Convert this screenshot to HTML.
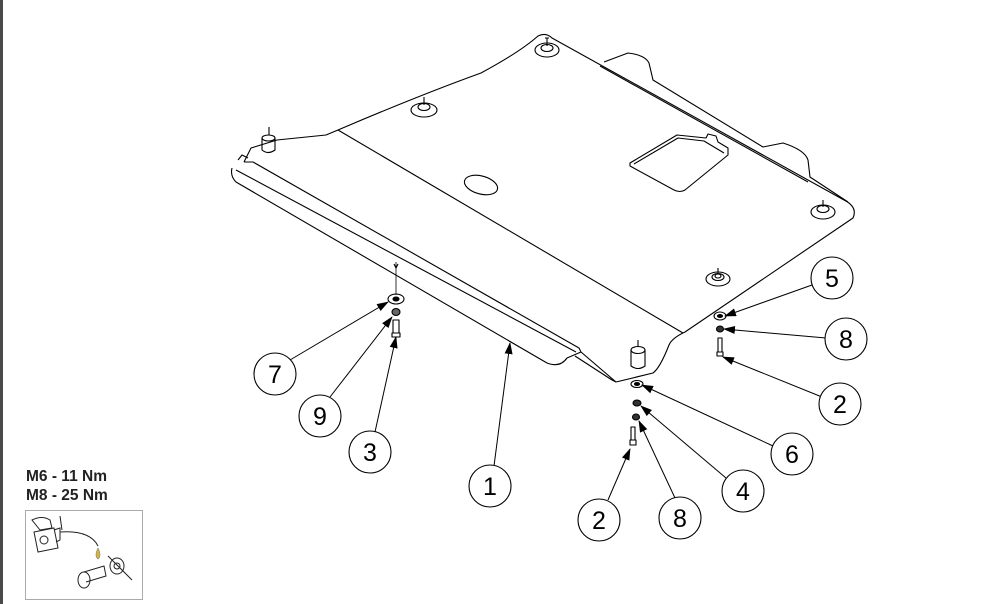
<!DOCTYPE html>
<html><head><meta charset="utf-8"><style>
html,body{margin:0;padding:0;background:#fff;}
body{width:991px;height:604px;overflow:hidden;position:relative;font-family:"Liberation Sans",sans-serif;}
.bar{position:absolute;left:0;top:0;width:3px;height:604px;background:#4a4a4a;}
.t{position:absolute;left:26px;font-weight:bold;font-size:15.5px;color:#222;line-height:18px;}
</style></head><body>
<div class="bar"></div>
<svg width="991" height="604" style="position:absolute;left:0;top:0" xmlns="http://www.w3.org/2000/svg">
<defs>
<marker id="a" markerWidth="12" markerHeight="8" refX="11" refY="4" orient="auto" markerUnits="userSpaceOnUse">
<path d="M0,0 L12,4 L0,8 Z" fill="#000"/></marker>
</defs>
<g fill="none" stroke="#000" stroke-width="1.1" stroke-linejoin="round">
<path d="M244,162 L251,148 L277,140 L326,135 L338,130 Q420,95 481,73 Q520,52 538,36 Q546,32 552,38 L844,200 Q858,207 853,218 L685,332 Q672,338 669,345 Q660,368 653,373 L616,382"/>
<path d="M338,130 L683,333"/>
<path d="M232,168 Q230,176 236,182 L547,363 Q560,368 567,358 L581,352"/>
<path d="M244,162 L253,162 L579,348 L581,352"/>
<path d="M236,170 L576,352"/>
<path d="M581,352 L616,382 M575,356 L612,380"/>
<path d="M612,380 L616,382"/>
<path d="M604,62 L628,53 Q645,55 649,63 L653,80 L763,147 L783,143 Q805,150 808,160 L810,177 L848,202"/>
<path d="M600,66 L808,182"/>
<path d="M630,163 L677,135 L706,138 L708,134 L716,136 L718,142 L728,148 L728,155 L685,190 Q680,193 674,190 L630,166 Z"/>
<path d="M634,164 L678,138 L704,141 L724,153"/>
<ellipse cx="481" cy="185" rx="17" ry="9" transform="rotate(15 481 185)"/>
<ellipse cx="547" cy="50" rx="12" ry="7"/><ellipse cx="547" cy="48" rx="6" ry="3.5"/><path d="M547,46 V38 M545,38 H549"/>
<ellipse cx="424" cy="110" rx="13" ry="7"/><ellipse cx="424" cy="107" rx="6" ry="3.5"/><path d="M424,105 V97"/>
<ellipse cx="823" cy="212" rx="12" ry="7"/><ellipse cx="823" cy="209" rx="6" ry="3.5"/><path d="M823,207 V200"/>
<ellipse cx="718" cy="279" rx="12" ry="7"/><ellipse cx="718" cy="277" rx="6" ry="3.5"/><ellipse cx="718" cy="276" rx="3" ry="2"/><path d="M718,274 V268"/>
<path d="M262,138 L262,150 Q268,155 275,150 L275,138"/><ellipse cx="268.5" cy="138" rx="6.5" ry="3"/><path d="M269,135 V127"/>
<path d="M238,160 L242,155 L248,158"/>
<path d="M631,350 V366 Q638,371 645,366 V350"/><ellipse cx="638" cy="350" rx="7" ry="3.5"/><path d="M638,347 V340"/>
<path d="M396,262 V295" stroke-width="0.8"/><path d="M394,264 L396,268 L398,264"/>
<ellipse cx="396" cy="299" rx="8" ry="5"/><ellipse cx="396" cy="299" rx="3" ry="2" fill="#000"/>
<ellipse cx="396" cy="312" rx="4" ry="3.5" fill="#666"/>
<path d="M393,320 V333 H399 V320 Z"/><path d="M392,333 H400 V337 H392 Z"/>
<ellipse cx="720" cy="316" rx="6" ry="4"/><ellipse cx="720" cy="316" rx="2.5" ry="1.5" fill="#000"/>
<ellipse cx="720" cy="329" rx="3.5" ry="3" fill="#333"/>
<path d="M718,338 V352 H722 V338 Z"/><path d="M717,352 H723 V356 H717 Z"/>
<ellipse cx="637" cy="384" rx="6" ry="3.5"/><ellipse cx="637" cy="384" rx="2.5" ry="1.5" fill="#000"/>
<ellipse cx="637" cy="403" rx="4" ry="3" fill="#333"/>
<ellipse cx="636" cy="417" rx="3.5" ry="3" fill="#333"/>
<path d="M631,427 V440 H635 V427 Z"/><path d="M630,440 H636 V445 H630 Z"/>
</g>
<g stroke="#000" stroke-width="1" marker-end="url(#a)">
<line x1="290" y1="360" x2="388" y2="302"/>
<line x1="330" y1="397" x2="392" y2="317"/>
<line x1="375" y1="432" x2="396" y2="337"/>
<line x1="494" y1="466" x2="510" y2="343"/>
<line x1="812" y1="285" x2="725" y2="316"/>
<line x1="826" y1="338" x2="724" y2="329"/>
<line x1="822" y1="397" x2="723" y2="357"/>
<line x1="773" y1="446" x2="642" y2="385"/>
<line x1="726" y1="478" x2="641" y2="406"/>
<line x1="675" y1="498" x2="639" y2="421"/>
<line x1="608" y1="500" x2="630" y2="449"/>
</g>
<g fill="#fff" stroke="#000" stroke-width="1.1">
<circle cx="832" cy="278" r="21"/><circle cx="846" cy="339" r="21"/><circle cx="840" cy="404" r="21"/>
<circle cx="792" cy="454" r="21"/><circle cx="743" cy="491" r="21"/><circle cx="680" cy="518" r="21"/>
<circle cx="599" cy="520" r="21"/><circle cx="490" cy="486" r="21"/><circle cx="370" cy="452" r="21"/>
<circle cx="320" cy="416" r="21"/><circle cx="275" cy="374" r="21"/>
</g>
<g font-family="Liberation Sans, sans-serif" font-size="25" text-anchor="middle" fill="#000">
<text x="832" y="287">5</text><text x="846" y="348">8</text><text x="840" y="413">2</text>
<text x="792" y="463">6</text><text x="743" y="500">4</text><text x="680" y="527">8</text>
<text x="599" y="529">2</text><text x="490" y="495">1</text><text x="370" y="461">3</text>
<text x="320" y="425">9</text><text x="275" y="383">7</text>
</g>
<rect x="25.5" y="510.5" width="117" height="89" fill="#fff" stroke="#aaa"/>
<g fill="none" stroke="#222" stroke-width="1">
<path d="M32,520 Q42,515 50,520 L52,528 L40,530 Z"/>
<path d="M34,532 L54,528 L58,548 L38,552 Z"/><circle cx="44" cy="540" r="4"/>
<path d="M54,530 L60,528 L60,540 L56,542"/>
<path d="M60,532 Q90,530 98,546"/><path d="M60,516 L62,530"/>
<path d="M84,572 L104,566 L106,576 L86,582"/>
<ellipse cx="84" cy="580" rx="6" ry="8"/>
<ellipse cx="117" cy="566" rx="7" ry="8"/><circle cx="117" cy="566" r="3"/>
<path d="M108,556 L132,580"/>
</g>
<path d="M98,548 Q94,556 98,559 Q102,556 98,548 Z" fill="#d4b44a" stroke="#886" stroke-width="0.6"/>
</svg>
<div class="t" style="top:468px">M6 - 11 Nm</div>
<div class="t" style="top:487px">M8 - 25 Nm</div>
</body></html>
